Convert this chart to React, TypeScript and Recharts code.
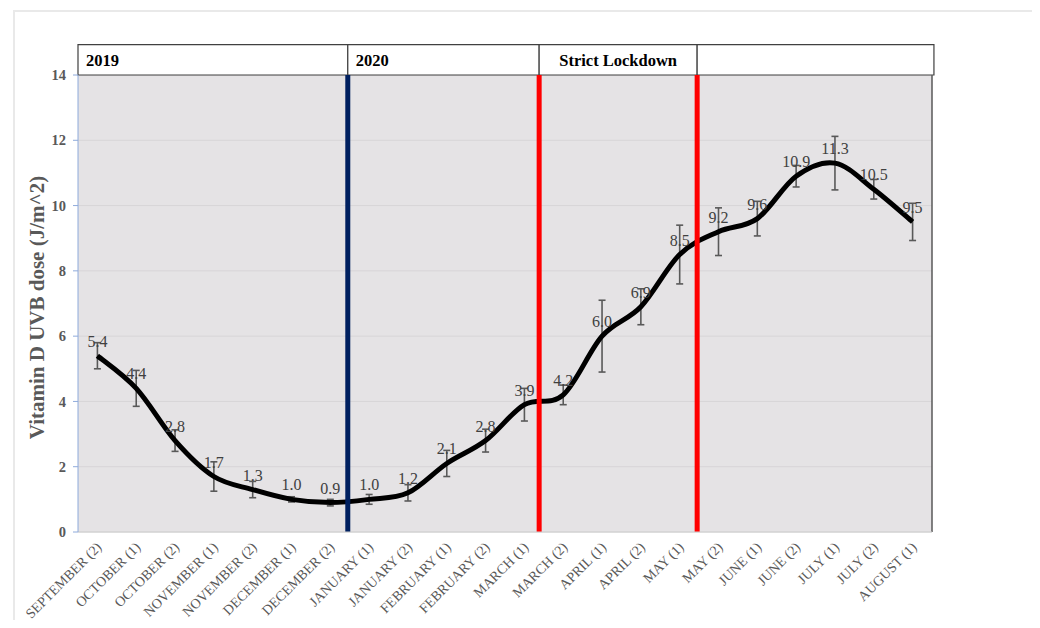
import {
  LineChart,
  Line,
  XAxis,
  YAxis,
  CartesianGrid,
  ErrorBar,
  LabelList,
  ReferenceLine,
  ReferenceArea,
} from "recharts";

const categories = [
  "SEPTEMBER (2)",
  "OCTOBER (1)",
  "OCTOBER (2)",
  "NOVEMBER (1)",
  "NOVEMBER (2)",
  "DECEMBER (1)",
  "DECEMBER (2)",
  "JANUARY (1)",
  "JANUARY (2)",
  "FEBRUARY (1)",
  "FEBRUARY (2)",
  "MARCH (1)",
  "MARCH (2)",
  "APRIL (1)",
  "APRIL (2)",
  "MAY (1)",
  "MAY (2)",
  "JUNE (1)",
  "JUNE (2)",
  "JULY (1)",
  "JULY (2)",
  "AUGUST (1)",
];

const uvbDose = [5.4, 4.4, 2.8, 1.7, 1.3, 1.0, 0.9, 1.0, 1.2, 2.1, 2.8, 3.9, 4.2, 6.0, 6.9, 8.5, 9.2, 9.6, 10.9, 11.3, 10.5, 9.5];
const uvbError = [0.4, 0.55, 0.33, 0.45, 0.25, 0.08, 0.1, 0.15, 0.25, 0.4, 0.35, 0.5, 0.3, 1.1, 0.55, 0.9, 0.73, 0.53, 0.33, 0.82, 0.3, 0.57];

const yTicks = [0, 2, 4, 6, 8, 10, 12, 14];

// header periods: [start, end, label, centered]
const periods: Array<[number, number, string, boolean]> = [
  [-0.5, 6.45, "2019", false],
  [6.45, 11.38, "2020", false],
  [11.38, 15.45, "Strict Lockdown", true],
  [15.45, 21.55, "", false],
];

const data = categories.map((name, i) => ({
  idx: i,
  name,
  value: uvbDose[i],
  err: uvbError[i],
}));

const FONT = "'Liberation Serif', 'DejaVu Serif', serif";

// Excel-like smoothed line (Catmull-Rom through the points)
const excelSmooth = (context: any) => {
  let pts: number[][] = [];
  return {
    areaStart() {},
    areaEnd() {},
    lineStart() {
      pts = [];
    },
    point(x: number, y: number) {
      pts.push([+x, +y]);
    },
    lineEnd() {
      if (!pts.length) return;
      context.moveTo(pts[0][0], pts[0][1]);
      const t = 1 / 6;
      for (let i = 0; i < pts.length - 1; i++) {
        const p0 = pts[Math.max(i - 1, 0)];
        const p1 = pts[i];
        const p2 = pts[i + 1];
        const p3 = pts[Math.min(i + 2, pts.length - 1)];
        context.bezierCurveTo(
          p1[0] + (p2[0] - p0[0]) * t,
          p1[1] + (p2[1] - p0[1]) * t,
          p2[0] - (p3[0] - p1[0]) * t,
          p2[1] - (p3[1] - p1[1]) * t,
          p2[0],
          p2[1]
        );
      }
    },
  };
};

const AngledTick = ({ x, y, payload }: any) => (
  <text
    x={x + 5}
    y={y + 8}
    transform={`rotate(-45, ${x + 5}, ${y + 8})`}
    textAnchor="end"
    fontSize={14}
    fontFamily={FONT}
    fill="#595959"
  >
    {categories[payload.value]}
  </text>
);

export default function App() {
  return (
    <div style={{ position: "relative", width: 1040, height: 628, margin: -8, overflow: "hidden", background: "#fff" }}>
      <div
        style={{
          position: "absolute",
          left: 13,
          top: 10,
          width: 1024,
          height: 640,
          border: "2px solid #e9e9e9",
          boxSizing: "border-box",
        }}
      />
      <div style={{ position: "absolute", left: 0, top: 0 }}>
        <LineChart width={1040} height={628} data={data} margin={{ top: 75, right: 108, bottom: 0, left: 0 }}>
          <CartesianGrid vertical={false} fill="#e5e3e5" stroke="#d7d5d7" />
          <XAxis
            dataKey="idx"
            type="number"
            domain={[-0.5, 21.5]}
            ticks={categories.map((_, i) => i)}
            interval={0}
            height={96}
            tickLine={false}
            axisLine={{ stroke: "#d0d0d0" }}
            tick={<AngledTick />}
          />
          <YAxis
            domain={[0, 14]}
            ticks={yTicks}
            width={78}
            tickSize={5}
            tickMargin={7}
            axisLine={{ stroke: "#8eaadb" }}
            tickLine={{ stroke: "#8eaadb" }}
            tick={{ fontSize: 14.5, fontWeight: "bold", fill: "#595959", fontFamily: FONT }}
            label={{
              value: "Vitamin D UVB dose (J/m^2)",
              angle: -90,
              position: "center",
              dx: -2,
              dy: 4,
              style: { fontSize: 21, fontWeight: "bold", fill: "#595959", fontFamily: FONT, textAnchor: "middle" },
            }}
          />
          <Line dataKey="value" stroke="none" dot={false} isAnimationActive={false}>
            <LabelList
              dataKey="value"
              position="top"
              offset={9}
              formatter={(v: any) => Number(v).toFixed(1)}
              style={{ fontSize: 16, fill: "#404040", fontFamily: FONT }}
            />
          </Line>
          <Line
            dataKey="value"
            type={excelSmooth as any}
            stroke="#000"
            strokeWidth={5}
            dot={false}
            isAnimationActive={false}
          >
            <ErrorBar dataKey="err" direction="y" width={3.5} stroke="#595959" strokeWidth={1.6} />
          </Line>
          <ReferenceLine x={21.5} stroke="#595959" strokeWidth={1.5} />
          <ReferenceLine x={periods[1][0]} stroke="#002060" strokeWidth={5} />
          <ReferenceLine x={periods[2][0]} stroke="#ff0000" strokeWidth={5} />
          <ReferenceLine x={periods[3][0]} stroke="#ff0000" strokeWidth={5} />
          {periods.map(([x1, x2, label, centered]) => (
            <ReferenceArea
              key={`${x1}`}
              x1={x1}
              x2={x2}
              y1={14}
              y2={14.93}
              ifOverflow="visible"
              fill="#ffffff"
              fillOpacity={1}
              stroke="#404040"
              strokeWidth={1.2}
              label={{
                value: label,
                position: centered ? "center" : "insideLeft",
                offset: 8,
                style: { fontSize: 16.5, fontWeight: "bold", fill: "#000", fontFamily: FONT },
              }}
            />
          ))}
        </LineChart>
      </div>
    </div>
  );
}
